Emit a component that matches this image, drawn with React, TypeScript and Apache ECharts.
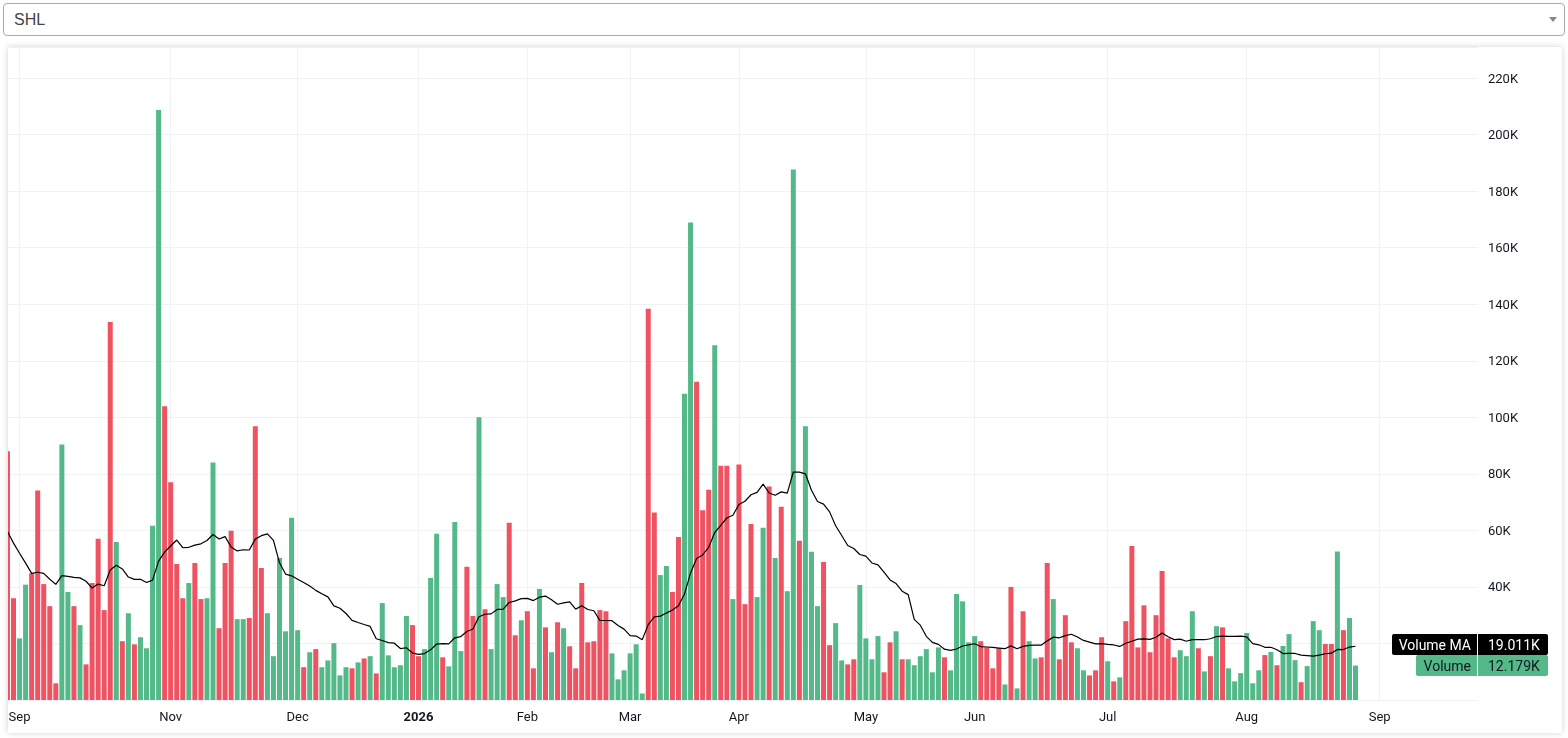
import React, { useEffect, useRef } from "react";
import * as echarts from "echarts";

// Daily volume, in thousands (K)
const volumes: number[] = [
  88.0, 36.0, 21.8, 40.8, 44.8, 74.1, 41.0, 33.2, 5.9, 90.4,
  38.2, 33.2, 26.5, 12.6, 41.4, 57.0, 31.8, 133.7, 55.9, 20.8,
  30.7, 19.7, 22.2, 18.3, 61.6, 208.7, 103.9, 77.0, 48.1, 36.0,
  41.4, 48.5, 35.7, 36.0, 84.0, 25.4, 48.5, 59.9, 28.6, 28.6,
  29.0, 96.8, 46.7, 30.7, 15.5, 50.2, 24.3, 64.5, 24.7, 11.6,
  16.9, 18.0, 11.6, 14.0, 20.1, 8.7, 11.6, 11.2, 13.3, 14.7,
  15.5, 9.4, 34.3, 15.8, 11.6, 12.3, 29.7, 26.5, 15.5, 18.0,
  43.2, 58.8, 15.1, 11.9, 63.0, 17.3, 47.1, 29.7, 100.0, 32.1,
  18.0, 41.0, 36.4, 62.7, 22.9, 28.2, 31.4, 11.2, 39.3, 25.7,
  16.9, 27.5, 25.4, 19.0, 11.2, 41.4, 20.4, 20.8, 31.8, 31.4,
  16.5, 7.3, 10.5, 16.5, 19.7, 2.3, 138.4, 66.3, 44.2, 47.4,
  38.2, 57.7, 108.3, 168.9, 112.6, 67.1, 74.4, 125.5, 82.9, 82.9,
  35.7, 83.3, 33.9, 62.3, 36.4, 60.9, 75.5, 50.2, 68.4, 38.5,
  187.7, 56.3, 96.8, 52.4, 33.2, 48.8, 19.4, 27.2, 14.0, 12.6,
  14.4, 40.7, 21.8, 14.4, 22.6, 9.8, 20.4, 24.3, 14.4, 14.4,
  12.3, 15.5, 18.0, 9.8, 18.6, 15.1, 10.5, 37.5, 34.9, 20.4,
  22.6, 20.8, 18.6, 11.2, 18.3, 5.5, 40.0, 4.1, 31.4, 20.8,
  14.7, 15.1, 48.5, 35.7, 14.4, 30.0, 20.4, 18.3, 10.5, 8.7,
  10.5, 22.2, 13.7, 6.6, 8.0, 27.9, 54.5, 18.6, 33.5, 16.9,
  30.0, 45.6, 21.8, 15.1, 17.6, 15.5, 31.4, 18.3, 10.1, 15.5,
  26.1, 25.7, 11.2, 6.6, 9.5, 23.7, 5.9, 10.5, 15.9, 17.0,
  12.3, 19.1, 23.3, 14.1, 6.3, 12.0, 27.9, 24.7, 19.8, 19.8,
  52.54, 24.7, 29.0, 12.179,
];

// g = up (green), r = down (red), one letter per bar
const barDirection: string[] = (
  "rrggrrrrrg" + "grgrrrrrgr" + "grggggrrrr" + "grrggrrrgg" + "rrrggggggr" +
  "grgggggrgr" + "grgggggrrg" + "ggrgggrrgr" + "gggrrgrrgr" + "grgrrrrrrr" +
  "ggggggrrgg" + "rrggrrrgrr" + "grrrggrgrg" + "grgggrrggr" + "rggggrrgrg" +
  "gggggrgggg" + "grrrrgrgrg" + "grrgrrrggr" + "rrgrgrrrrr" + "rrrrgggrgr" +
  "grggggggrg" + "rgggrgggrr" + "grgg"
).split("");

// MA(20) values of the first 19 bars (their window starts before the visible data)
const maLead: number[] = [
  59.6, 55.5, 51.9, 48.4, 44.8, 45.2, 44.8, 42.7, 40.9, 44.0,
  43.7, 43.4, 43.2, 42.0, 39.6, 41.0, 40.4, 46.0, 47.7,
];

const monthStartIndex: number[] = [2, 27, 48, 68, 86, 103, 121, 142, 160, 182, 205, 227];
const monthLabels: string[] = ["Sep", "Nov", "Dec", "2026", "Feb", "Mar", "Apr", "May", "Jun", "Jul", "Aug", "Sep"];

const yTickValues: number[] = [0, 20, 40, 60, 80, 100, 120, 140, 160, 180, 200, 220];

const MA_PERIOD = 20;
const UP = "#53b988";
const DOWN = "#ef5261";
const GRID = "#f0f2f5";
const TEXT = "#131722";
const FONT = "Roboto, 'Noto Sans', sans-serif";

export default function App() {
  const ref = useRef<HTMLDivElement>(null);

  useEffect(() => {
    if (!ref.current) return;
    const chart = echarts.init(ref.current, null, { renderer: "svg" });

    const ma = volumes.map((_, i) => {
      if (i < MA_PERIOD - 1) return maLead[i];
      let s = 0;
      for (let k = i - MA_PERIOD + 1; k <= i; k++) s += volumes[k];
      return s / MA_PERIOD;
    });

    const barData = volumes.map((v, i) => ({
      value: [i, v],
      itemStyle: { color: barDirection[i] === "g" ? UP : DOWN },
    }));
    const maData = ma.map((v, i) => [i, v]);

    chart.setOption({
      animation: false,
      grid: { left: 8, top: 47, width: 1470, height: 653, outerBoundsMode: "none" },
      xAxis: {
        type: "value",
        min: 0.089,
        max: 243.26,
        axisLine: { show: false },
        axisTick: { show: false },
        splitLine: { show: false },
        axisLabel: {
          customValues: monthStartIndex,
          formatter: (v: number) => {
            const k = monthStartIndex.indexOf(Math.round(v));
            if (k < 0) return "";
            const t = monthLabels[k];
            return /^\d+$/.test(t) ? `{b|${t}}` : t;
          },
          color: TEXT,
          fontSize: 13,
          fontFamily: FONT,
          margin: 10,
          rich: { b: { fontWeight: "bold", fontSize: 13, fontFamily: FONT, color: TEXT } },
        },
      },
      yAxis: {
        type: "value",
        position: "right",
        min: 0,
        max: 231,
        interval: 20,
        axisLine: { show: false },
        axisTick: { show: false },
        splitLine: { lineStyle: { color: GRID, width: 1 } },
        axisLabel: {
          color: TEXT,
          fontSize: 13,
          fontFamily: FONT,
          margin: 10,
          formatter: (v: number) => (v >= 40 && yTickValues.indexOf(v) >= 0 ? `${v}K` : ""),
        },
      },
      series: [
        {
          type: "bar",
          name: "Volume",
          data: barData,
          barWidth: 5,
          clip: true,
          z: 2,
          markLine: {
            silent: true,
            z: 1,
            symbol: ["none", "none"],
            label: { show: false },
            lineStyle: { color: GRID, type: "solid", width: 1 },
            data: monthStartIndex.map((i) => ({ xAxis: i })),
          },
        },
        {
          type: "line",
          name: "Volume MA",
          data: maData,
          showSymbol: false,
          symbol: "none",
          clip: true,
          lineStyle: { color: "#000", width: 1.2 },
          z: 3,
        },
      ],
    });

    const last = volumes.length - 1;
    const lastVol = volumes[last];
    const lastMa = ma[last];
    let yMa = chart.convertToPixel({ xAxisIndex: 0, yAxisIndex: 0 }, [0, lastMa])[1];
    const yVol = chart.convertToPixel({ xAxisIndex: 0, yAxisIndex: 0 }, [0, lastVol])[1];
    const H = 21;
    if (yVol - yMa < H) yMa = yVol - H;

    const badge = (y: number, title: string, value: string, bg: string, fg: string, titleLeft: number) => [
      { type: "rect", z: 100, shape: { x: titleLeft, y: y - H / 2, width: 1477 - titleLeft, height: H, r: [2, 0, 0, 2] }, style: { fill: bg } },
      { type: "rect", z: 100, shape: { x: 1478, y: y - H / 2, width: 70, height: H, r: [0, 2, 2, 0] }, style: { fill: bg } },
      { type: "text", z: 101, x: 1471, y, style: { text: title, fill: fg, font: `14px ${FONT}`, align: "right", verticalAlign: "middle" } },
      { type: "text", z: 101, x: 1488, y, style: { text: value, fill: fg, font: `14px ${FONT}`, align: "left", verticalAlign: "middle" } },
    ];

    chart.setOption({
      graphic: [
        ...badge(yMa, "Volume MA", `${lastMa.toFixed(3)}K`, "#000000", "#ffffff", 1392),
        ...badge(yVol, "Volume", `${lastVol.toFixed(3)}K`, UP, TEXT, 1416),
      ],
    });

    return () => chart.dispose();
  }, []);

  return (
    <div>
      <div
        style={{
          position: "fixed",
          left: 3,
          top: 3,
          width: 1562,
          height: 33,
          border: "1px solid #aaa",
          borderRadius: 4,
          boxSizing: "border-box",
          background: "#fff",
          fontFamily: "'Liberation Sans', Arial, sans-serif",
          fontSize: 16,
          color: "#444",
          lineHeight: "31px",
          paddingLeft: 10,
        }}
      >
        SHL
        <span
          style={{
            position: "absolute",
            left: 1545,
            top: 13,
            width: 0,
            height: 0,
            borderTop: "5px solid #888",
            borderLeft: "4px solid transparent",
            borderRight: "4px solid transparent",
          }}
        />
      </div>
      <div
        style={{
          position: "fixed",
          left: 8,
          top: 47,
          width: 1554,
          height: 686,
          background: "#fff",
          boxShadow: "0 0 6px rgba(0,0,0,0.18)",
        }}
      />
      <div style={{ position: "fixed", left: 8, top: 0, width: 1560, height: 738, overflow: "hidden" }}>
        <div ref={ref} style={{ position: "absolute", left: -8, top: 0, width: 1568, height: 738 }} />
      </div>
    </div>
  );
}
